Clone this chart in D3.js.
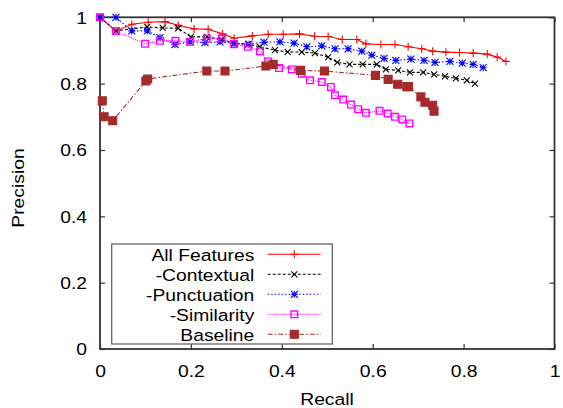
<!DOCTYPE html>
<html>
<head>
<meta charset="utf-8">
<script src="https://cdn.jsdelivr.net/npm/d3@7"></script>
<style>
  body { margin: 0; background: #fff; }
  text { font-family: "Liberation Sans", Arial, sans-serif; fill: #000; }
</style>
</head>
<body>
<div id="chart"></div>
<script>
// recall / precision pairs
const allRecall = [0, 0.035, 0.070, 0.106, 0.143, 0.172, 0.207, 0.238, 0.270, 0.295, 0.335, 0.370, 0.403, 0.439, 0.472, 0.502, 0.533, 0.565, 0.585, 0.618, 0.649, 0.678, 0.708, 0.732, 0.761, 0.791, 0.821, 0.852, 0.874, 0.893];
const allPrecision = [1, 0.959, 0.979, 0.985, 0.987, 0.976, 0.965, 0.964, 0.950, 0.937, 0.944, 0.949, 0.949, 0.950, 0.943, 0.942, 0.933, 0.933, 0.920, 0.918, 0.918, 0.911, 0.905, 0.898, 0.895, 0.894, 0.892, 0.889, 0.880, 0.867];

const ctxRecall = [0, 0.035, 0.104, 0.138, 0.172, 0.200, 0.235, 0.268, 0.295, 0.326, 0.352, 0.385, 0.413, 0.444, 0.473, 0.502, 0.522, 0.549, 0.578, 0.609, 0.629, 0.656, 0.682, 0.711, 0.735, 0.759, 0.783, 0.807, 0.825];
const ctxPrecision = [1, 0.959, 0.971, 0.968, 0.967, 0.941, 0.941, 0.933, 0.921, 0.919, 0.911, 0.901, 0.896, 0.895, 0.892, 0.880, 0.864, 0.858, 0.858, 0.858, 0.843, 0.840, 0.834, 0.834, 0.828, 0.822, 0.816, 0.810, 0.800];

const punctRecall = [0, 0.035, 0.070, 0.104, 0.132, 0.165, 0.198, 0.231, 0.264, 0.295, 0.328, 0.361, 0.396, 0.427, 0.455, 0.488, 0.517, 0.546, 0.576, 0.598, 0.625, 0.651, 0.684, 0.713, 0.737, 0.770, 0.797, 0.821, 0.843];
const punctPrecision = [1, 1, 0.959, 0.959, 0.939, 0.918, 0.926, 0.924, 0.926, 0.921, 0.919, 0.925, 0.926, 0.922, 0.911, 0.914, 0.905, 0.905, 0.898, 0.886, 0.876, 0.870, 0.874, 0.870, 0.864, 0.867, 0.862, 0.858, 0.848];

const simRecall = [0, 0.035, 0.099, 0.132, 0.166, 0.198, 0.235, 0.268, 0.295, 0.325, 0.352, 0.370, 0.394, 0.422, 0.444, 0.462, 0.488, 0.508, 0.517, 0.535, 0.552, 0.568, 0.585, 0.615, 0.633, 0.649, 0.665, 0.681];
const simPrecision = [1, 0.959, 0.920, 0.929, 0.929, 0.926, 0.936, 0.936, 0.919, 0.911, 0.898, 0.867, 0.847, 0.843, 0.830, 0.810, 0.805, 0.790, 0.765, 0.752, 0.737, 0.723, 0.712, 0.718, 0.710, 0.700, 0.692, 0.680];

const baseRecall = [0.005, 0.009, 0.028, 0.101, 0.105, 0.235, 0.275, 0.365, 0.381, 0.441, 0.494, 0.606, 0.634, 0.655, 0.675, 0.679, 0.706, 0.715, 0.732, 0.735];
const basePrecision = [0.748, 0.700, 0.688, 0.808, 0.814, 0.838, 0.838, 0.853, 0.858, 0.840, 0.838, 0.825, 0.813, 0.798, 0.791, 0.791, 0.760, 0.744, 0.735, 0.717];

const seriesNames = ["All Features", "-Contextual", "-Punctuation", "-Similarity", "Baseline"];
const xTicks = [0, 0.2, 0.4, 0.6, 0.8, 1];
const yTicks = [0, 0.2, 0.4, 0.6, 0.8, 1];

const margin = {top: 17.3, right: 8.5, bottom: 59, left: 100};
const width = 563 - margin.left - margin.right;
const height = 408 - margin.top - margin.bottom;
const stretch = "scale(1.17,1)"; // the original glyphs are drawn a bit wide

const styles = [
    {color: "#ff0000", dash: null, marker: "plus", size: 4},
    {color: "#000000", dash: "3,2", marker: "cross", size: 3},
    {color: "#0000ff", dash: "1.5,2", marker: "star", size: 3.5},
    {color: "#ff00ff", dash: "1,1", marker: "square", size: 3.3},
    {color: "#a52a2a", dash: "5,2,1.5,2", marker: "filled", size: 4}
];

const series = [
    d3.zip(allRecall, allPrecision),
    d3.zip(ctxRecall, ctxPrecision),
    d3.zip(punctRecall, punctPrecision),
    d3.zip(simRecall, simPrecision),
    d3.zip(baseRecall, basePrecision)
];

function markerPath(type, s) {
    const plus = `M${-s},0H${s}M0,${-s}V${s}`;
    const cross = `M${-s},${-s}L${s},${s}M${-s},${s}L${s},${-s}`;
    if (type === "plus") return plus;
    if (type === "cross") return cross;
    if (type === "star") return plus + cross;
    return `M${-s},${-s}H${s}V${s}H${-s}Z`;
}

function drawMarker(sel, st) {
    sel.append("path")
        .attr("d", markerPath(st.marker, st.size))
        .attr("fill", st.marker === "filled" ? st.color : "none")
        .attr("stroke", st.color)
        .attr("stroke-width", st.marker === "square" ? 1.4 : 1.1);
}

const svg = d3.select("#chart").append("svg")
    .attr("width", 563)
    .attr("height", 408);

const plot = svg.append("g")
    .attr("transform", `translate(${margin.left},${margin.top})`);

const x = d3.scaleLinear().domain([0, 1]).range([0, width]);
const y = d3.scaleLinear().domain([0, 1]).range([height, 0]);

// axes: gnuplot style, ticks pointing inwards on all four sides
const bottom = plot.append("g")
    .attr("transform", `translate(0,${height})`)
    .call(d3.axisBottom(x).tickValues(xTicks).tickSizeInner(-5).tickSizeOuter(0).tickFormat(d3.format("~g")));
bottom.selectAll("text").attr("y", 28).attr("dy", 0).attr("font-size", 16.5).attr("transform", stretch);

const left = plot.append("g")
    .call(d3.axisLeft(y).tickValues(yTicks).tickSizeInner(-5).tickSizeOuter(0).tickFormat(d3.format("~g")));
left.selectAll("text").attr("x", -11.1).attr("dy", "0.36em").attr("font-size", 16.5).attr("transform", stretch);

plot.append("g")
    .call(d3.axisTop(x).tickValues(xTicks).tickSizeInner(-5).tickSizeOuter(0).tickFormat(""));
plot.append("g")
    .attr("transform", `translate(${width},0)`)
    .call(d3.axisRight(y).tickValues(yTicks).tickSizeInner(-5).tickSizeOuter(0).tickFormat(""));

plot.selectAll(".domain").remove();
plot.selectAll(".tick line").attr("stroke", "#333").attr("stroke-width", 1.2);

plot.append("rect")
    .attr("width", width)
    .attr("height", height)
    .attr("fill", "none")
    .attr("stroke", "#333")
    .attr("stroke-width", 1.8);

// series
const line = d3.line().x(d => x(d[0])).y(d => y(d[1]));

series.forEach((data, i) => {
    const st = styles[i];
    const g = plot.append("g");
    g.append("path")
        .datum(data)
        .attr("d", line)
        .attr("fill", "none")
        .attr("stroke", st.color)
        .attr("stroke-width", 1.1)
        .attr("stroke-dasharray", st.dash);
    g.selectAll(".pt")
        .data(data)
        .enter().append("g")
        .attr("class", "pt")
        .attr("transform", d => `translate(${x(d[0])},${y(d[1])})`)
        .each(function() { drawMarker(d3.select(this), st); });
});

// legend
const legend = svg.append("g");
legend.append("rect")
    .attr("x", 111.7).attr("y", 244)
    .attr("width", 220.6).attr("height", 100)
    .attr("fill", "#fff")
    .attr("stroke", "#666")
    .attr("stroke-width", 1.3);

seriesNames.forEach((name, i) => {
    const st = styles[i];
    const cy = 254.3 + i * 20;
    legend.append("text")
        .attr("transform", `translate(254.3,${cy + 6.2}) ${stretch}`)
        .attr("text-anchor", "end")
        .attr("font-size", 16.5)
        .text(name);
    legend.append("line")
        .attr("x1", 267.7).attr("x2", 320.7)
        .attr("y1", cy).attr("y2", cy)
        .attr("stroke", st.color)
        .attr("stroke-width", 1.1)
        .attr("stroke-dasharray", st.dash);
    legend.append("g")
        .attr("transform", `translate(294.3,${cy})`)
        .call(drawMarker, st);
});

// axis titles
svg.append("text")
    .attr("transform", `translate(327,405) ${stretch}`)
    .attr("text-anchor", "middle")
    .attr("font-size", 16.5)
    .text("Recall");

svg.append("text")
    .attr("transform", `translate(24,188) rotate(-90) ${stretch}`)
    .attr("text-anchor", "middle")
    .attr("font-size", 16.5)
    .text("Precision");
</script>
</body>
</html>
